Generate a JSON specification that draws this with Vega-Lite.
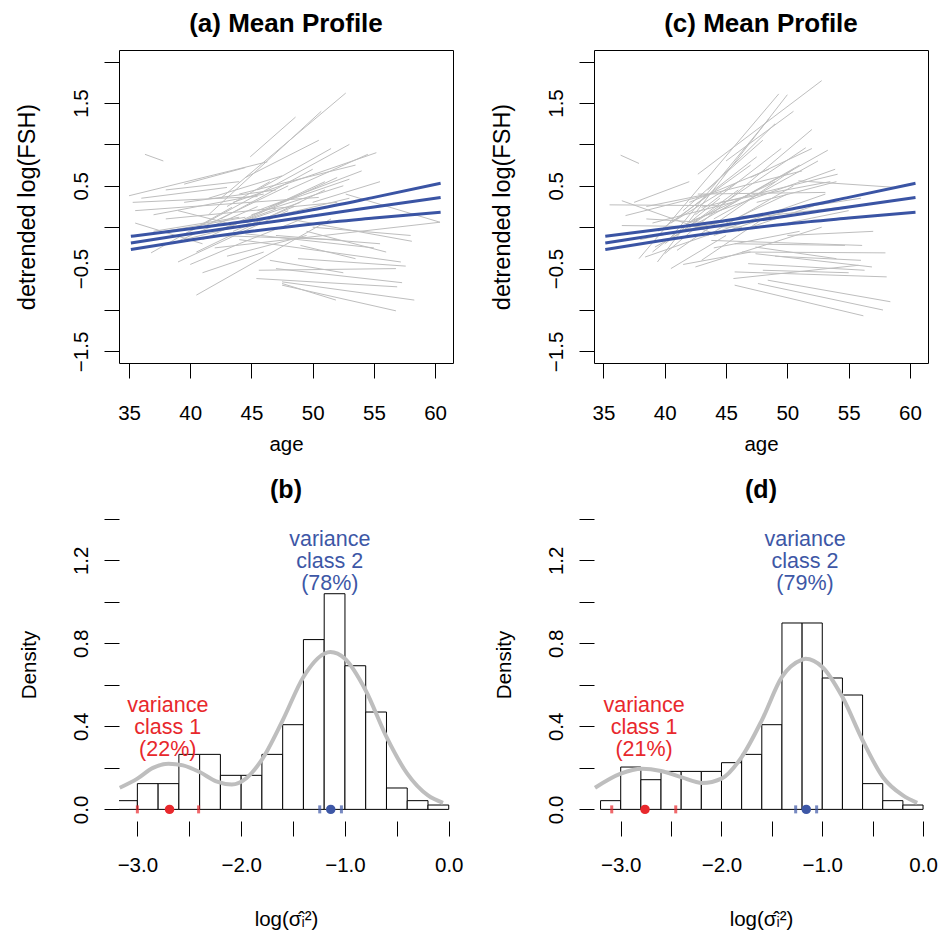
{
"$schema": "https://vega.github.io/schema/vega-lite/v6.json",
"background": "white",
"padding": {"left": 14, "top": 10, "right": 2, "bottom": 2},
"config": {
 "font": "Liberation Sans",
 "view": {"stroke": null},
 "axis": {"grid": false, "domain": false, "tickColor": "black", "tickSize": 15, "tickWidth": 1, "labelColor": "black", "titleColor": "black", "labelFontSize": 20.5, "titleFontSize": 20.5, "titleFontWeight": "normal", "labelFont": "Liberation Sans", "titleFont": "Liberation Sans", "labelOverlap": false, "labelFlush": false, "labelBound": false},
 "axisX": {"labelPadding": 25, "titlePadding": 11},
 "axisY": {"labelAngle": -90, "labelAlign": "center", "labelBaseline": "alphabetic", "labelPadding": 17, "titlePadding": 32},
 "title": {"fontSize": 26, "fontWeight": "bold", "font": "Liberation Sans", "color": "black", "anchor": "middle", "baseline": "alphabetic"}
},
"datasets": {
 "segA": [
  {"id":1,"age":36.3,"v":0.88},{"id":1,"age":37.8,"v":0.80},
  {"id":2,"age":44.9,"v":0.85},{"id":2,"age":48.6,"v":1.33},
  {"id":3,"age":42.5,"v":0.35},{"id":3,"age":52.7,"v":1.62},
  {"id":4,"age":41.5,"v":0.15},{"id":4,"age":50.7,"v":1.40},
  {"id":5,"age":40.0,"v":-0.05},{"id":5,"age":53.0,"v":1.00},
  {"id":6,"age":43.5,"v":0.30},{"id":6,"age":55.2,"v":0.90},
  {"id":7,"age":35.0,"v":0.38},{"id":7,"age":46.3,"v":0.79},
  {"id":8,"age":39.5,"v":0.52},{"id":8,"age":44.5,"v":0.72},
  {"id":9,"age":35.3,"v":0.30},{"id":9,"age":45.5,"v":0.37},
  {"id":10,"age":37.0,"v":0.15},{"id":10,"age":46.0,"v":0.40},
  {"id":11,"age":35.5,"v":0.20},{"id":11,"age":50.5,"v":0.36},
  {"id":12,"age":38.0,"v":0.10},{"id":12,"age":52.0,"v":0.30},
  {"id":13,"age":44.0,"v":0.40},{"id":13,"age":53.5,"v":0.75},
  {"id":14,"age":45.5,"v":0.20},{"id":14,"age":54.0,"v":0.68},
  {"id":15,"age":41.0,"v":-0.15},{"id":15,"age":52.0,"v":0.60},
  {"id":16,"age":40.5,"v":-0.30},{"id":16,"age":51.0,"v":0.45},
  {"id":17,"age":39.0,"v":-0.42},{"id":17,"age":48.0,"v":0.20},
  {"id":18,"age":40.5,"v":-0.82},{"id":18,"age":51.5,"v":0.10},
  {"id":19,"age":37.0,"v":-0.05},{"id":19,"age":44.0,"v":0.12},
  {"id":20,"age":36.0,"v":-0.10},{"id":20,"age":44.5,"v":0.12},
  {"id":21,"age":35.5,"v":0.05},{"id":21,"age":41.0,"v":-0.20},
  {"id":22,"age":42.0,"v":-0.25},{"id":22,"age":60.4,"v":0.06},
  {"id":23,"age":48.0,"v":0.10},{"id":23,"age":58.1,"v":-0.17},
  {"id":24,"age":44.0,"v":-0.15},{"id":24,"age":57.2,"v":-0.42},
  {"id":25,"age":45.6,"v":-0.52},{"id":25,"age":56.8,"v":-0.50},
  {"id":26,"age":45.4,"v":-0.62},{"id":26,"age":56.9,"v":-0.72},
  {"id":27,"age":47.0,"v":-0.50},{"id":27,"age":57.3,"v":-0.67},
  {"id":28,"age":47.5,"v":-0.66},{"id":28,"age":58.3,"v":-0.88},
  {"id":29,"age":47.5,"v":-0.70},{"id":29,"age":56.8,"v":-1.01},
  {"id":30,"age":47.5,"v":-0.68},{"id":30,"age":51.9,"v":-0.88},
  {"id":31,"age":48.8,"v":-0.38},{"id":31,"age":57.6,"v":-0.47},
  {"id":32,"age":49.0,"v":-0.22},{"id":32,"age":53.5,"v":-0.38},
  {"id":33,"age":42.0,"v":-0.10},{"id":33,"age":52.0,"v":-0.15},
  {"id":34,"age":50.0,"v":0.00},{"id":34,"age":58.0,"v":-0.10},
  {"id":35,"age":52.7,"v":0.40},{"id":35,"age":60.4,"v":0.06},
  {"id":36,"age":38.5,"v":-0.20},{"id":36,"age":45.5,"v":0.25},
  {"id":37,"age":43.0,"v":-0.35},{"id":37,"age":49.5,"v":-0.10},
  {"id":38,"age":36.8,"v":-0.31},{"id":38,"age":43.4,"v":0.24},
  {"id":39,"age":41.0,"v":0.00},{"id":39,"age":48.0,"v":0.50},
  {"id":40,"age":42.5,"v":0.10},{"id":40,"age":50.0,"v":0.70},
  {"id":41,"age":43.0,"v":0.00},{"id":41,"age":51.0,"v":0.55},
  {"id":42,"age":44.0,"v":0.05},{"id":42,"age":49.0,"v":0.30},
  {"id":43,"age":46.0,"v":0.10},{"id":43,"age":53.0,"v":0.35},
  {"id":44,"age":39.5,"v":0.30},{"id":44,"age":47.0,"v":0.45},
  {"id":45,"age":45.5,"v":0.45},{"id":45,"age":51.5,"v":0.95},
  {"id":46,"age":40.0,"v":-0.45},{"id":46,"age":44.0,"v":-0.20},
  {"id":47,"age":44.5,"v":-0.08},{"id":47,"age":55.0,"v":-0.25},
  {"id":48,"age":50.0,"v":0.30},{"id":48,"age":55.5,"v":0.55},
  {"id":49,"age":39.0,"v":0.20},{"id":49,"age":43.0,"v":0.05},
  {"id":50,"age":46.5,"v":-0.40},{"id":50,"age":52.5,"v":-0.55},
  {"id":51,"age":38.0,"v":0.45},{"id":51,"age":44.0,"v":0.55},
  {"id":52,"age":41.5,"v":0.35},{"id":52,"age":47.5,"v":0.62},
  {"id":53,"age":43.5,"v":-0.05},{"id":53,"age":48.5,"v":0.25},
  {"id":54,"age":44.0,"v":-0.20},{"id":54,"age":50.0,"v":0.15},
  {"id":55,"age":45.0,"v":0.15},{"id":55,"age":52.5,"v":0.50},
  {"id":56,"age":46.5,"v":0.25},{"id":56,"age":53.0,"v":0.58},
  {"id":57,"age":42.0,"v":-0.05},{"id":57,"age":47.0,"v":0.22},
  {"id":58,"age":39.5,"v":-0.15},{"id":58,"age":45.0,"v":0.05},
  {"id":59,"age":43.0,"v":0.25},{"id":59,"age":46.5,"v":0.55},
  {"id":60,"age":47.0,"v":-0.10},{"id":60,"age":55.5,"v":-0.20},
  {"id":61,"age":49.5,"v":-0.05},{"id":61,"age":56.0,"v":-0.30},
  {"id":62,"age":41.0,"v":-0.55},{"id":62,"age":46.0,"v":-0.30},
  {"id":63,"age":44.5,"v":0.60},{"id":63,"age":50.5,"v":1.05},
  {"id":64,"age":36.0,"v":0.35},{"id":64,"age":43.0,"v":0.48},
  {"id":65,"age":48.0,"v":0.45},{"id":65,"age":54.5,"v":0.88}
 ],
 "segC": [
  {"id":1,"age":36.4,"v":0.87},{"id":1,"age":37.9,"v":0.77},
  {"id":2,"age":37.9,"v":-0.38},{"id":2,"age":49.3,"v":1.61},
  {"id":3,"age":39.4,"v":-0.42},{"id":3,"age":50.0,"v":1.60},
  {"id":4,"age":42.7,"v":0.64},{"id":4,"age":52.8,"v":1.77},
  {"id":5,"age":40.3,"v":-0.16},{"id":5,"age":48.5,"v":1.31},
  {"id":6,"age":40.0,"v":-0.32},{"id":6,"age":52.0,"v":1.18},
  {"id":7,"age":41.1,"v":-0.08},{"id":7,"age":51.5,"v":0.96},
  {"id":8,"age":39.2,"v":-0.24},{"id":8,"age":53.3,"v":0.93},
  {"id":9,"age":42.2,"v":0.08},{"id":9,"age":53.9,"v":0.70},
  {"id":10,"age":43.0,"v":0.24},{"id":10,"age":54.1,"v":0.64},
  {"id":11,"age":35.5,"v":0.27},{"id":11,"age":44.4,"v":0.26},
  {"id":12,"age":36.5,"v":0.32},{"id":12,"age":44.1,"v":-0.08},
  {"id":13,"age":50.9,"v":0.56},{"id":13,"age":58.9,"v":0.48},
  {"id":14,"age":42.7,"v":0.40},{"id":14,"age":53.1,"v":0.42},
  {"id":15,"age":36.8,"v":0.14},{"id":15,"age":51.2,"v":0.68},
  {"id":16,"age":38.4,"v":-0.36},{"id":16,"age":53.1,"v":0.40},
  {"id":17,"age":42.5,"v":-0.48},{"id":17,"age":52.8,"v":0.00},
  {"id":18,"age":45.7,"v":-0.20},{"id":18,"age":54.7,"v":-0.22},
  {"id":19,"age":43.8,"v":-0.16},{"id":19,"age":56.1,"v":-0.22},
  {"id":20,"age":46.3,"v":-0.30},{"id":20,"age":58.0,"v":-0.31},
  {"id":21,"age":47.4,"v":-0.24},{"id":21,"age":54.0,"v":-0.38},
  {"id":22,"age":47.4,"v":-0.32},{"id":22,"age":56.9,"v":-0.48},
  {"id":23,"age":46.8,"v":-0.44},{"id":23,"age":56.3,"v":-0.52},
  {"id":24,"age":45.7,"v":-0.54},{"id":24,"age":58.1,"v":-0.60},
  {"id":25,"age":45.6,"v":-0.62},{"id":25,"age":55.8,"v":-0.46},
  {"id":26,"age":45.7,"v":-0.70},{"id":26,"age":56.2,"v":-1.07},
  {"id":27,"age":47.6,"v":-0.68},{"id":27,"age":57.8,"v":-1.00},
  {"id":28,"age":48.4,"v":-0.64},{"id":28,"age":58.4,"v":-0.90},
  {"id":29,"age":36.5,"v":0.02},{"id":29,"age":46.3,"v":0.00},
  {"id":30,"age":38.0,"v":-0.15},{"id":30,"age":47.5,"v":0.15},
  {"id":31,"age":41.5,"v":0.20},{"id":31,"age":48.0,"v":1.05},
  {"id":32,"age":43.5,"v":0.45},{"id":32,"age":49.0,"v":1.25},
  {"id":33,"age":39.5,"v":-0.05},{"id":33,"age":47.0,"v":0.75},
  {"id":34,"age":41.0,"v":-0.28},{"id":34,"age":50.5,"v":0.70},
  {"id":35,"age":44.0,"v":0.10},{"id":35,"age":52.5,"v":0.80},
  {"id":36,"age":43.0,"v":-0.40},{"id":36,"age":48.0,"v":0.10},
  {"id":37,"age":40.5,"v":0.05},{"id":37,"age":46.0,"v":0.55},
  {"id":38,"age":44.5,"v":0.30},{"id":38,"age":53.5,"v":0.55},
  {"id":39,"age":46.0,"v":0.10},{"id":39,"age":55.0,"v":0.25},
  {"id":40,"age":47.0,"v":0.60},{"id":40,"age":52.0,"v":0.95},
  {"id":41,"age":45.0,"v":0.05},{"id":41,"age":50.0,"v":0.40},
  {"id":42,"age":38.5,"v":0.10},{"id":42,"age":44.0,"v":0.05},
  {"id":43,"age":41.5,"v":-0.45},{"id":43,"age":47.0,"v":-0.30},
  {"id":44,"age":50.0,"v":-0.10},{"id":44,"age":57.0,"v":-0.05},
  {"id":45,"age":49.5,"v":0.20},{"id":45,"age":56.0,"v":0.35},
  {"id":46,"age":39.0,"v":-0.30},{"id":46,"age":44.5,"v":0.35},
  {"id":47,"age":42.0,"v":0.05},{"id":47,"age":49.0,"v":0.55},
  {"id":48,"age":37.5,"v":0.30},{"id":48,"age":42.0,"v":0.55},
  {"id":49,"age":48.0,"v":-0.52},{"id":49,"age":55.0,"v":-0.55},
  {"id":50,"age":44.0,"v":-0.10},{"id":50,"age":50.0,"v":0.20},
  {"id":51,"age":41.0,"v":0.10},{"id":51,"age":47.5,"v":0.85},
  {"id":52,"age":42.5,"v":0.15},{"id":52,"age":49.5,"v":0.95},
  {"id":53,"age":40.0,"v":-0.20},{"id":53,"age":46.0,"v":0.45},
  {"id":54,"age":43.5,"v":-0.10},{"id":54,"age":50.5,"v":0.50},
  {"id":55,"age":44.5,"v":0.20},{"id":55,"age":51.0,"v":0.75},
  {"id":56,"age":39.0,"v":0.05},{"id":56,"age":45.5,"v":0.30},
  {"id":57,"age":46.0,"v":-0.05},{"id":57,"age":53.0,"v":0.30},
  {"id":58,"age":42.0,"v":0.30},{"id":58,"age":48.5,"v":0.70},
  {"id":59,"age":40.5,"v":-0.50},{"id":59,"age":45.0,"v":-0.10},
  {"id":60,"age":47.5,"v":0.30},{"id":60,"age":54.0,"v":0.55},
  {"id":61,"age":45.0,"v":0.80},{"id":61,"age":50.5,"v":1.40},
  {"id":62,"age":49.0,"v":-0.35},{"id":62,"age":56.0,"v":-0.40},
  {"id":63,"age":38.5,"v":0.25},{"id":63,"age":43.5,"v":0.40},
  {"id":64,"age":44.0,"v":-0.25},{"id":64,"age":51.0,"v":-0.05},
  {"id":65,"age":50.0,"v":0.05},{"id":65,"age":55.0,"v":0.20}
 ],
 "band": [
  {"b":"upper","age":35.15,"v":-0.11},{"b":"upper","age":40,"v":-0.02},{"b":"upper","age":45,"v":0.08},{"b":"upper","age":50,"v":0.21},{"b":"upper","age":55,"v":0.36},{"b":"upper","age":60.45,"v":0.53},
  {"b":"mid","age":35.15,"v":-0.19},{"b":"mid","age":40,"v":-0.08},{"b":"mid","age":45,"v":0.03},{"b":"mid","age":50,"v":0.135},{"b":"mid","age":55,"v":0.245},{"b":"mid","age":60.45,"v":0.36},
  {"b":"lower","age":35.15,"v":-0.27},{"b":"lower","age":40,"v":-0.155},{"b":"lower","age":45,"v":-0.05},{"b":"lower","age":50,"v":0.04},{"b":"lower","age":55,"v":0.11},{"b":"lower","age":60.45,"v":0.18}
 ],
 "histB": [
  {"x0":-3.2,"x1":-3.0,"d":0.042},{"x0":-3.0,"x1":-2.8,"d":0.124},{"x0":-2.8,"x1":-2.6,"d":0.124},{"x0":-2.6,"x1":-2.4,"d":0.265},
  {"x0":-2.4,"x1":-2.2,"d":0.265},{"x0":-2.2,"x1":-2.0,"d":0.164},{"x0":-2.0,"x1":-1.8,"d":0.164},{"x0":-1.8,"x1":-1.6,"d":0.265},
  {"x0":-1.6,"x1":-1.4,"d":0.408},{"x0":-1.4,"x1":-1.2,"d":0.818},{"x0":-1.2,"x1":-1.0,"d":1.039},{"x0":-1.0,"x1":-0.8,"d":0.692},
  {"x0":-0.8,"x1":-0.6,"d":0.469},{"x0":-0.6,"x1":-0.4,"d":0.103},{"x0":-0.4,"x1":-0.2,"d":0.042},{"x0":-0.2,"x1":0.0,"d":0.021}
 ],
 "histD": [
  {"x0":-3.2,"x1":-3.0,"d":0.042},{"x0":-3.0,"x1":-2.8,"d":0.204},{"x0":-2.8,"x1":-2.6,"d":0.143},{"x0":-2.6,"x1":-2.4,"d":0.183},
  {"x0":-2.4,"x1":-2.2,"d":0.183},{"x0":-2.2,"x1":-2.0,"d":0.183},{"x0":-2.0,"x1":-1.8,"d":0.225},{"x0":-1.8,"x1":-1.6,"d":0.265},
  {"x0":-1.6,"x1":-1.4,"d":0.408},{"x0":-1.4,"x1":-1.2,"d":0.898},{"x0":-1.2,"x1":-1.0,"d":0.898},{"x0":-1.0,"x1":-0.8,"d":0.633},
  {"x0":-0.8,"x1":-0.6,"d":0.551},{"x0":-0.6,"x1":-0.4,"d":0.124},{"x0":-0.4,"x1":-0.2,"d":0.042},{"x0":-0.2,"x1":0.0,"d":0.021}
 ],
 "densB": [
  {"x":-3.17,"y":0.104},{"x":-3.0,"y":0.148},{"x":-2.85,"y":0.200},{"x":-2.7,"y":0.220},{"x":-2.56,"y":0.212},{"x":-2.4,"y":0.180},
  {"x":-2.24,"y":0.135},{"x":-2.09,"y":0.120},{"x":-1.95,"y":0.150},{"x":-1.8,"y":0.240},{"x":-1.6,"y":0.429},{"x":-1.4,"y":0.638},
  {"x":-1.2,"y":0.750},{"x":-1.14,"y":0.758},{"x":-1.0,"y":0.726},{"x":-0.8,"y":0.573},{"x":-0.6,"y":0.349},{"x":-0.4,"y":0.172},
  {"x":-0.2,"y":0.067},{"x":-0.055,"y":0.031}
 ],
 "densD": [
  {"x":-3.255,"y":0.104},{"x":-3.0,"y":0.172},{"x":-2.79,"y":0.196},{"x":-2.6,"y":0.185},{"x":-2.4,"y":0.155},{"x":-2.19,"y":0.127},
  {"x":-2.0,"y":0.148},{"x":-1.8,"y":0.252},{"x":-1.6,"y":0.429},{"x":-1.4,"y":0.638},{"x":-1.2,"y":0.721},{"x":-1.165,"y":0.726},
  {"x":-1.0,"y":0.686},{"x":-0.8,"y":0.541},{"x":-0.6,"y":0.333},{"x":-0.4,"y":0.156},{"x":-0.2,"y":0.067},{"x":-0.058,"y":0.031}
 ],
 "dotB": [{"x":-2.69,"cls":"1"},{"x":-1.137,"cls":"2"}],
 "tickB": [{"x":-3.0,"cls":"1"},{"x":-2.41,"cls":"1"},{"x":-1.243,"cls":"2"},{"x":-1.034,"cls":"2"}],
 "labB": [{"x":-2.707,"y":0.496,"t":"variance\nclass 1\n(22%)","cls":"1"},{"x":-1.146,"y":1.296,"t":"variance\nclass 2\n(78%)","cls":"2"}],
 "dotD": [{"x":-2.759,"cls":"1"},{"x":-1.159,"cls":"2"}],
 "tickD": [{"x":-3.089,"cls":"1"},{"x":-2.454,"cls":"1"},{"x":-1.264,"cls":"2"},{"x":-1.056,"cls":"2"}],
 "labD": [{"x":-2.768,"y":0.496,"t":"variance\nclass 1\n(21%)","cls":"1"},{"x":-1.171,"y":1.296,"t":"variance\nclass 2\n(79%)","cls":"2"}]
},
"columns": 2,
"bounds": "flush",
"spacing": {"row": 145, "column": 141},
"concat": [
 {
  "width": 334, "height": 313,
  "title": {"text": "(a) Mean Profile", "offset": 13},
  "view": {"stroke": "black", "strokeWidth": 1},
  "layer": [
   {"data": {"name": "segA"}, "mark": {"type": "line", "color": "#BEBEBE", "strokeWidth": 1},
    "encoding": {
     "x": {"field": "age", "type": "quantitative", "scale": {"domain": [34.18, 61.46], "nice": false, "zero": false}, "axis": {"values": [35,40,45,50,55,60], "format": "d", "title": "age"}},
     "y": {"field": "v", "type": "quantitative", "scale": {"domain": [-1.64, 2.14], "nice": false, "zero": false}, "axis": {"values": [-1.5,-1,-0.5,0,0.5,1,1.5,2], "labelExpr": "(datum.value == 1.5 || datum.value == 0.5 || datum.value == -0.5 || datum.value == -1.5) ? format(datum.value, '.1f') : ''", "title": "detrended log(FSH)", "titleFontSize": 23.5}},
     "detail": {"field": "id"}}},
   {"data": {"name": "band"}, "mark": {"type": "line", "color": "#3A54A4", "strokeWidth": 3, "interpolate": "monotone"},
    "encoding": {"x": {"field": "age", "type": "quantitative"}, "y": {"field": "v", "type": "quantitative"}, "detail": {"field": "b"}}},
   {"mark": {"type": "text", "fontSize": 23, "color": "black", "align": "center", "baseline": "middle"},
    "encoding": {"x": {"datum": 45.46, "type": "quantitative"}, "y": {"datum": 1.772, "type": "quantitative"}, "text": {"value": "mean=(0.04,0.11)"}}}
  ]
 },
 {
  "width": 334, "height": 313,
  "title": {"text": "(c) Mean Profile", "offset": 13},
  "view": {"stroke": "black", "strokeWidth": 1},
  "layer": [
   {"data": {"name": "segC"}, "mark": {"type": "line", "color": "#BEBEBE", "strokeWidth": 1},
    "encoding": {
     "x": {"field": "age", "type": "quantitative", "scale": {"domain": [34.23, 61.47], "nice": false, "zero": false}, "axis": {"values": [35,40,45,50,55,60], "format": "d", "title": "age"}},
     "y": {"field": "v", "type": "quantitative", "scale": {"domain": [-1.64, 2.14], "nice": false, "zero": false}, "axis": {"values": [-1.5,-1,-0.5,0,0.5,1,1.5,2], "labelExpr": "(datum.value == 1.5 || datum.value == 0.5 || datum.value == -0.5 || datum.value == -1.5) ? format(datum.value, '.1f') : ''", "title": "detrended log(FSH)", "titleFontSize": 23.5}},
     "detail": {"field": "id"}}},
   {"data": {"name": "band"}, "mark": {"type": "line", "color": "#3A54A4", "strokeWidth": 3, "interpolate": "monotone"},
    "encoding": {"x": {"field": "age", "type": "quantitative"}, "y": {"field": "v", "type": "quantitative"}, "detail": {"field": "b"}}},
   {"mark": {"type": "text", "fontSize": 23, "color": "black", "align": "center", "baseline": "middle"},
    "encoding": {"x": {"datum": 45.54, "type": "quantitative"}, "y": {"datum": 1.772, "type": "quantitative"}, "text": {"value": "mean=(0.04,0.11)"}}}
  ]
 },
 {
  "width": 334, "height": 313,
  "title": {"text": "(b)", "offset": 5, "fontSize": 25},
  "layer": [
   {"data": {"name": "histB"}, "mark": {"type": "rect", "fill": "white", "stroke": "black", "strokeWidth": 1, "clip": true},
    "encoding": {
     "x": {"field": "x0", "type": "quantitative", "scale": {"domain": [-3.177, 0.041], "nice": false, "zero": false}, "axis": {"values": [-3,-2.5,-2,-1.5,-1,-0.5,0], "labelExpr": "datum.value % 1 == 0 ? format(datum.value, '.1f') : ''", "title": "log(σ̂ᵢ²)", "labelPadding": 19.5, "titlePadding": 33}},
     "x2": {"field": "x1"},
     "y": {"field": "d", "type": "quantitative", "scale": {"domain": [-0.056, 1.452], "nice": false, "zero": false}, "axis": {"values": [0,0.2,0.4,0.6,0.8,1,1.2,1.4], "labelExpr": "(datum.value == 0 || datum.value == 0.4 || datum.value == 0.8 || datum.value == 1.2) ? format(datum.value, '.1f') : ''", "title": "Density"}},
     "y2": {"datum": 0}}},
   {"data": {"name": "densB"}, "mark": {"type": "line", "color": "#BEBEBE", "strokeWidth": 4, "interpolate": "monotone", "clip": true},
    "encoding": {"x": {"field": "x", "type": "quantitative"}, "y": {"field": "y", "type": "quantitative"}}},
   {"mark": {"type": "rule", "color": "black", "strokeWidth": 1},
    "encoding": {"x": {"datum": -3, "type": "quantitative"}, "x2": {"datum": 0}, "y": {"datum": -0.056, "type": "quantitative"}}},
   {"mark": {"type": "rule", "color": "black", "strokeWidth": 1},
    "encoding": {"x": {"datum": -3.177, "type": "quantitative"}, "y": {"datum": 0, "type": "quantitative"}, "y2": {"datum": 1.4}}},
   {"data": {"name": "tickB"}, "mark": {"type": "tick", "orient": "vertical", "thickness": 3, "size": 8},
    "encoding": {"x": {"field": "x", "type": "quantitative"}, "y": {"datum": 0, "type": "quantitative"}, "color": {"field": "cls", "type": "nominal", "scale": {"domain": ["1","2"], "range": ["#E8282C", "#3D57A6"]}, "legend": null}}},
   {"data": {"name": "dotB"}, "mark": {"type": "circle", "size": 90, "opacity": 1},
    "encoding": {"x": {"field": "x", "type": "quantitative"}, "y": {"datum": 0, "type": "quantitative"}, "color": {"field": "cls", "type": "nominal", "legend": null}}},
   {"data": {"name": "labB"}, "mark": {"type": "text", "fontSize": 21.5, "lineBreak": "\n", "lineHeight": 22, "align": "center", "baseline": "middle"},
    "encoding": {"x": {"field": "x", "type": "quantitative"}, "y": {"field": "y", "type": "quantitative"}, "text": {"field": "t"}, "color": {"field": "cls", "type": "nominal", "legend": null}}}
  ]
 },
 {
  "width": 334, "height": 313,
  "title": {"text": "(d)", "offset": 5, "fontSize": 25},
  "layer": [
   {"data": {"name": "histD"}, "mark": {"type": "rect", "fill": "white", "stroke": "black", "strokeWidth": 1, "clip": true},
    "encoding": {
     "x": {"field": "x0", "type": "quantitative", "scale": {"domain": [-3.265, 0.049], "nice": false, "zero": false}, "axis": {"values": [-3,-2.5,-2,-1.5,-1,-0.5,0], "labelExpr": "datum.value % 1 == 0 ? format(datum.value, '.1f') : ''", "title": "log(σ̂ᵢ²)", "labelPadding": 19.5, "titlePadding": 33}},
     "x2": {"field": "x1"},
     "y": {"field": "d", "type": "quantitative", "scale": {"domain": [-0.056, 1.452], "nice": false, "zero": false}, "axis": {"values": [0,0.2,0.4,0.6,0.8,1,1.2,1.4], "labelExpr": "(datum.value == 0 || datum.value == 0.4 || datum.value == 0.8 || datum.value == 1.2) ? format(datum.value, '.1f') : ''", "title": "Density"}},
     "y2": {"datum": 0}}},
   {"data": {"name": "densD"}, "mark": {"type": "line", "color": "#BEBEBE", "strokeWidth": 4, "interpolate": "monotone", "clip": true},
    "encoding": {"x": {"field": "x", "type": "quantitative"}, "y": {"field": "y", "type": "quantitative"}}},
   {"mark": {"type": "rule", "color": "black", "strokeWidth": 1},
    "encoding": {"x": {"datum": -3, "type": "quantitative"}, "x2": {"datum": 0}, "y": {"datum": -0.056, "type": "quantitative"}}},
   {"mark": {"type": "rule", "color": "black", "strokeWidth": 1},
    "encoding": {"x": {"datum": -3.265, "type": "quantitative"}, "y": {"datum": 0, "type": "quantitative"}, "y2": {"datum": 1.4}}},
   {"data": {"name": "tickD"}, "mark": {"type": "tick", "orient": "vertical", "thickness": 3, "size": 8},
    "encoding": {"x": {"field": "x", "type": "quantitative"}, "y": {"datum": 0, "type": "quantitative"}, "color": {"field": "cls", "type": "nominal", "scale": {"domain": ["1","2"], "range": ["#E8282C", "#3D57A6"]}, "legend": null}}},
   {"data": {"name": "dotD"}, "mark": {"type": "circle", "size": 90, "opacity": 1},
    "encoding": {"x": {"field": "x", "type": "quantitative"}, "y": {"datum": 0, "type": "quantitative"}, "color": {"field": "cls", "type": "nominal", "legend": null}}},
   {"data": {"name": "labD"}, "mark": {"type": "text", "fontSize": 21.5, "lineBreak": "\n", "lineHeight": 22, "align": "center", "baseline": "middle"},
    "encoding": {"x": {"field": "x", "type": "quantitative"}, "y": {"field": "y", "type": "quantitative"}, "text": {"field": "t"}, "color": {"field": "cls", "type": "nominal", "legend": null}}}
  ]
 }
]
}
